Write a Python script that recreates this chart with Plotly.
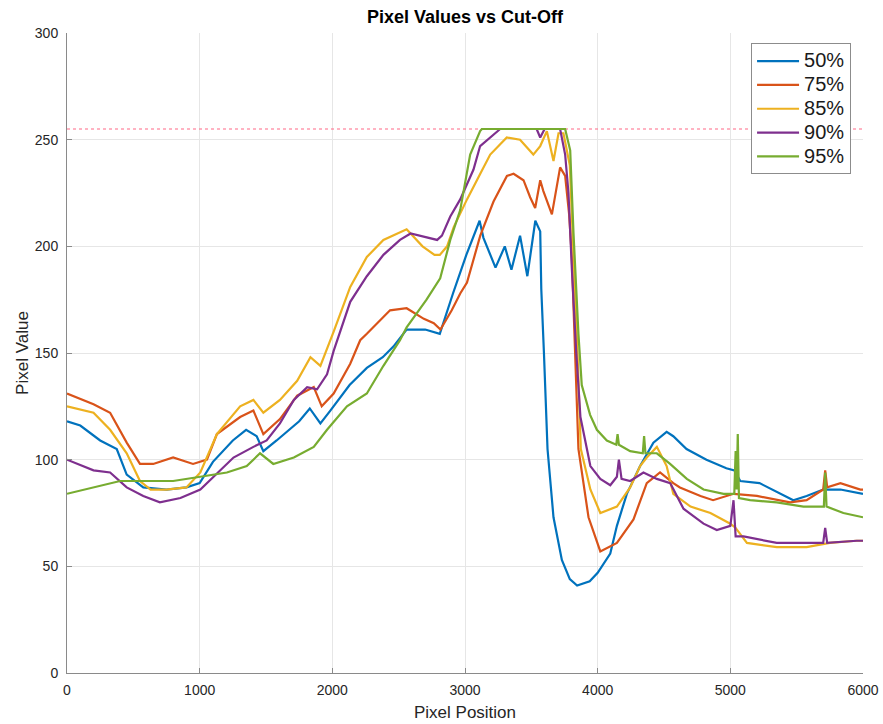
import plotly.graph_objects as go

# Pixel position vs pixel value profiles, one per cut-off level
cut_50 = [(0, 118), (100, 116), (250, 109), (375, 105), (450, 93), (575, 87), (750, 86), (900, 87), (1000, 89), (1100, 99),
          (1250, 109), (1350, 114), (1430, 111), (1480, 104), (1580, 109), (1750, 118), (1830, 124), (1910, 117), (1985, 123), (2130, 135),
          (2260, 143), (2380, 148), (2460, 153), (2560, 161), (2700, 161), (2810, 159), (2910, 178), (3010, 196), (3110, 212), (3139, 204),
          (3230, 190), (3300, 200), (3350, 189), (3415, 205), (3470, 186), (3530, 212), (3567, 207), (3575, 180), (3595, 150), (3622, 105),
          (3667, 73), (3730, 53), (3790, 44), (3845, 41), (3940, 43), (4000, 47), (4095, 56), (4145, 69), (4220, 84), (4320, 97),
          (4420, 108), (4520, 113), (4570, 111), (4670, 105), (4820, 100), (4970, 96), (5030, 95), (5075, 90), (5220, 89), (5320, 86),
          (5475, 81), (5575, 83), (5700, 86), (5830, 86), (5980, 84), (6000, 84)]

cut_75 = [(0, 131), (200, 126), (325, 122), (450, 108), (550, 98), (650, 98), (800, 101), (950, 98), (1055, 100), (1130, 112),
          (1305, 120), (1405, 123), (1480, 112), (1605, 119), (1735, 130), (1860, 134), (1920, 125), (2010, 131), (2135, 145), (2210, 156),
          (2260, 159), (2435, 170), (2560, 171), (2690, 166), (2765, 164), (2815, 161), (2900, 170), (2965, 178), (3015, 183), (3115, 205),
          (3215, 221), (3316, 233), (3366, 234), (3441, 231), (3491, 223), (3529, 218), (3567, 231), (3590, 226), (3655, 215), (3717, 237),
          (3755, 233), (3785, 215), (3805, 195), (3830, 150), (3855, 105), (3931, 73), (4020, 57), (4145, 61), (4270, 72), (4370, 89),
          (4470, 94), (4570, 89), (4620, 87), (4775, 83), (4870, 81), (5025, 84), (5200, 83), (5450, 80), (5575, 81), (5700, 86),
          (5715, 95), (5730, 87), (5830, 89), (5980, 86), (6000, 86)]

cut_85 = [(0, 125), (200, 122), (325, 114), (450, 103), (550, 90), (630, 86), (750, 86), (900, 87), (1005, 94), (1130, 112),
          (1305, 125), (1405, 128), (1480, 122), (1605, 128), (1735, 137), (1835, 148), (1910, 144), (2010, 160), (2135, 181), (2260, 195),
          (2385, 203), (2560, 208), (2680, 200), (2770, 196), (2810, 196), (2865, 200), (2915, 209), (3015, 222), (3115, 234), (3190, 243),
          (3315, 251), (3415, 250), (3515, 243), (3567, 247), (3617, 254), (3667, 240), (3705, 253), (3742, 253), (3790, 238), (3820, 195),
          (3848, 150), (3873, 105), (3945, 86), (4020, 75), (4145, 78), (4245, 87), (4320, 97), (4370, 101), (4446, 106), (4520, 97),
          (4570, 84), (4700, 78), (4850, 75), (5000, 70), (5040, 68), (5125, 61), (5350, 59), (5575, 59), (5750, 61), (5950, 62),
          (6000, 62)]

cut_90 = [(0, 100), (200, 95), (325, 94), (450, 87), (575, 83), (700, 80), (855, 82), (1005, 86), (1105, 92), (1255, 101),
          (1405, 106), (1505, 109), (1605, 117), (1710, 128), (1810, 134), (1885, 133), (1960, 140), (2010, 151), (2135, 174), (2260, 186),
          (2385, 196), (2510, 203), (2590, 206), (2710, 204), (2790, 203), (2826, 205), (2864, 211), (2889, 214), (2964, 222), (3064, 236),
          (3114, 247), (3190, 251), (3265, 255), (3540, 255), (3567, 251), (3600, 255), (3717, 255), (3755, 243), (3780, 225), (3805, 190),
          (3838, 151), (3870, 120), (3918, 105), (3945, 97), (4020, 91), (4095, 88), (4145, 92), (4160, 100), (4180, 91), (4245, 90),
          (4345, 94), (4446, 91), (4547, 89), (4647, 77), (4798, 70), (4898, 67), (5000, 69), (5024, 81), (5040, 64), (5100, 64),
          (5350, 61), (5577, 61), (5700, 61), (5715, 68), (5730, 61), (5953, 62), (6000, 62)]

cut_95 = [(0, 84), (200, 87), (400, 90), (600, 90), (800, 90), (1005, 92), (1205, 94), (1355, 97), (1455, 103), (1555, 98),
          (1710, 101), (1860, 106), (1960, 114), (2110, 125), (2260, 131), (2385, 144), (2510, 156), (2560, 162), (2710, 175), (2813, 185),
          (2889, 203), (2964, 217), (3039, 243), (3114, 254), (3127, 255), (3755, 255), (3793, 245), (3818, 206), (3855, 159), (3880, 135),
          (3943, 121), (3994, 114), (4069, 109), (4140, 107), (4150, 112), (4160, 107), (4245, 104), (4340, 103), (4350, 111), (4360, 103),
          (4446, 103), (4546, 98), (4672, 91), (4798, 86), (4949, 84), (5030, 84), (5040, 104), (5048, 86), (5056, 112), (5065, 82),
          (5149, 81), (5350, 80), (5551, 78), (5705, 78), (5715, 94), (5725, 78), (5852, 75), (6000, 73)]

series_names = ["50%", "75%", "85%", "90%", "95%"]
series_data = [cut_50, cut_75, cut_85, cut_90, cut_95]
series_colors = ["#0072BD", "#D95319", "#EDB120", "#7E2F8E", "#77AC30"]

saturation_level = 255
x_extent = [0, 6000]

fig = go.Figure()

# 8-bit saturation reference line
fig.add_trace(go.Scatter(
    x=x_extent, y=[saturation_level, saturation_level], mode="lines",
    line=dict(color="rgba(255,110,140,0.7)", width=1.3, dash="dot"),
    showlegend=False, hoverinfo="skip"))

for name, pts, color in zip(series_names, series_data, series_colors):
    xs = [p[0] for p in pts]
    ys = [p[1] for p in pts]
    fig.add_trace(go.Scatter(x=xs, y=ys, mode="lines",
                             name=f"<span style='font-size:20px'>{name}</span>",
                             line=dict(color=color, width=2.2)))

font_family = "Liberation Sans, Arial, Helvetica, sans-serif"
axis_style = dict(
    showgrid=True, gridcolor="#e6e6e6", gridwidth=1,
    showline=True, linecolor="#8a8a8a", linewidth=1,
    ticks="inside", ticklen=5, tickcolor="#8a8a8a",
    zeroline=False, mirror=False,
    tickfont=dict(size=14, color="#262626", family=font_family),
)

fig.update_layout(
    width=883, height=724,
    margin=dict(l=67, r=20, t=33, b=51, autoexpand=False),
    paper_bgcolor="white", plot_bgcolor="white",
    font=dict(family=font_family, color="#262626"),
    title=dict(text="<b>Pixel Values vs Cut-Off</b>", x=0.5, xref="paper",
               y=1 - 17 / 724, yref="container", yanchor="middle",
               font=dict(size=18, color="black", family=font_family)),
    xaxis=dict(range=x_extent, dtick=1000, tick0=0, ticklabelstandoff=4,
               title=dict(text="Pixel Position", font=dict(size=17, color="#262626"), standoff=9),
               **axis_style),
    yaxis=dict(range=[0, 300], dtick=50, tick0=0, ticklabelstandoff=5,
               title=dict(text="Pixel Value", font=dict(size=17, color="#262626"), standoff=1),
               **axis_style),
    legend=dict(x=0.985, xanchor="right", y=0.984, yanchor="top",
                bgcolor="white", bordercolor="#8c8c8c", borderwidth=1,
                font=dict(size=16, color="#1a1a1a", family=font_family),
                tracegroupgap=0, itemwidth=42),
)

fig.write_html("out.html")
